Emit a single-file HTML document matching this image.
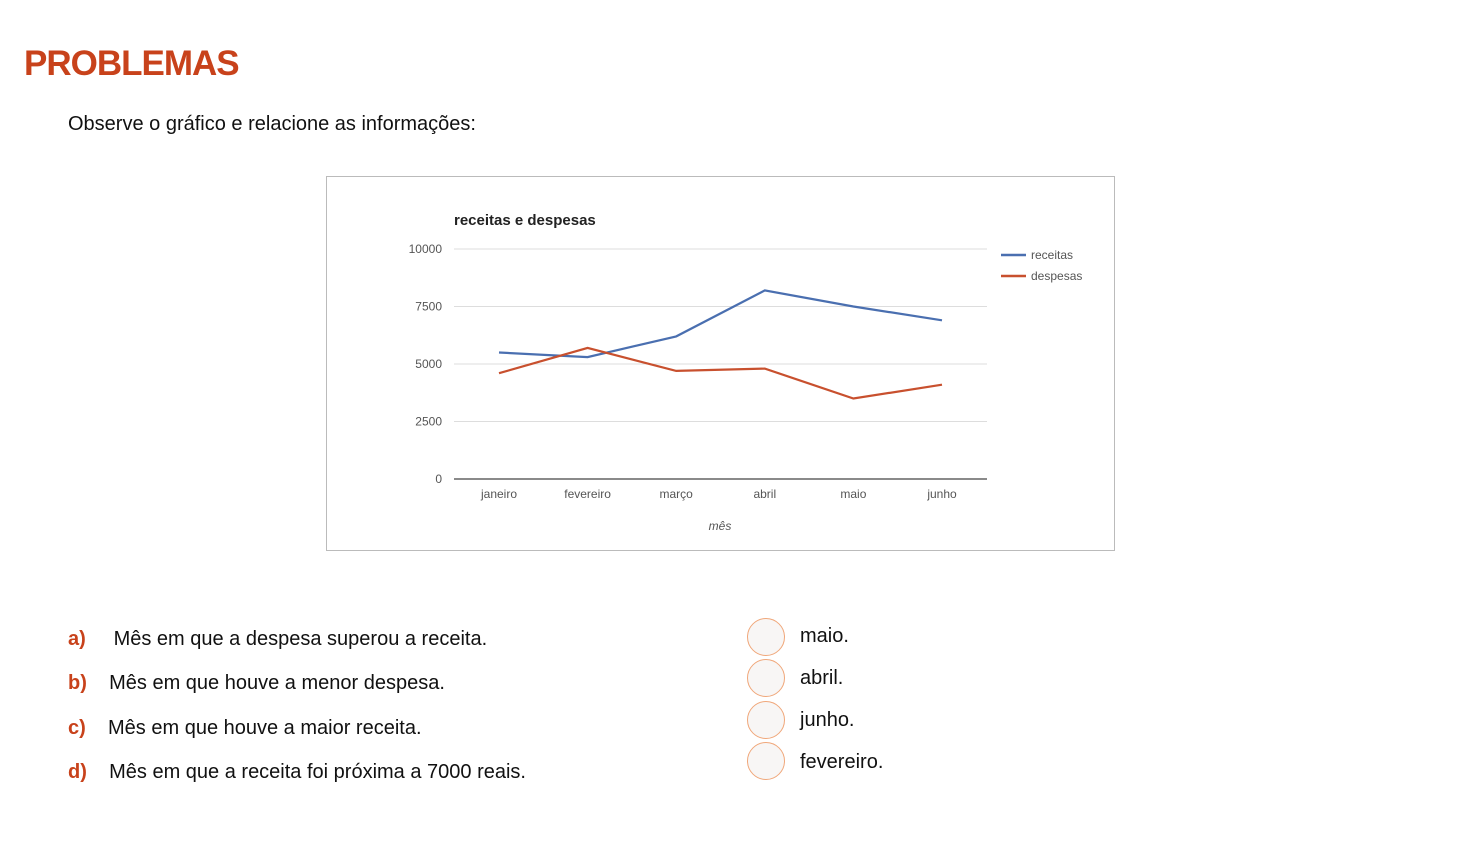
<!DOCTYPE html>
<html><head><meta charset="utf-8"><style>
body{margin:0;width:1460px;height:850px;background:#fff;position:relative;overflow:hidden;font-family:"Liberation Sans",sans-serif;color:#111}
.a{position:absolute;white-space:nowrap}
h1{position:absolute;left:24px;top:44px;margin:0;font-size:35px;font-weight:bold;color:#c8421b;letter-spacing:-1px}
.q{font-size:20px}
.q b{color:#c8421b}
.c{position:absolute;width:36px;height:36px;border-radius:50%;border:1.5px solid #f0a77a;background:#f8f6f5}
</style></head><body>
<h1>PROBLEMAS</h1>
<div class="a" style="left:68px;top:113px;font-size:20px">Observe o gráfico e relacione as informações:</div>
<svg class="a" style="left:0;top:0" width="1460" height="600" font-family="Liberation Sans, sans-serif">
<rect x="326.5" y="176.5" width="788" height="374" fill="#fff" stroke="#bbb"/>
<text x="454" y="225" font-size="15" font-weight="bold" fill="#222">receitas e despesas</text>
<g id="grid"></g><g id="lines"></g>
<text x="720" y="530" font-size="12" font-style="italic" fill="#555" text-anchor="middle">mês</text>
<line x1="1001" y1="255" x2="1026" y2="255" stroke="#4a6fb0" stroke-width="2.5"/>
<text x="1031" y="259" font-size="12" fill="#555">receitas</text>
<line x1="1001" y1="276" x2="1026" y2="276" stroke="#c8502e" stroke-width="2.5"/>
<text x="1031" y="280" font-size="12" fill="#555">despesas</text>
</svg>
<div class="a q" style="left:68px;top:628px"><b>a)</b>&nbsp;&nbsp;&nbsp;&nbsp; Mês em que a despesa superou a receita.</div>
<div class="a q" style="left:68px;top:672px"><b>b)</b>&nbsp;&nbsp;&nbsp; Mês em que houve a menor despesa.</div>
<div class="a q" style="left:68px;top:717px"><b>c)</b>&nbsp;&nbsp;&nbsp; Mês em que houve a maior receita.</div>
<div class="a q" style="left:68px;top:761px"><b>d)</b>&nbsp;&nbsp;&nbsp; Mês em que a receita foi próxima a 7000 reais.</div>
<div class="c" style="left:747px;top:618px"></div>
<div class="c" style="left:747px;top:659px"></div>
<div class="c" style="left:747px;top:701px"></div>
<div class="c" style="left:747px;top:742px"></div>
<div class="a q" style="left:800px;top:625px">maio.</div>
<div class="a q" style="left:800px;top:667px">abril.</div>
<div class="a q" style="left:800px;top:709px">junho.</div>
<div class="a q" style="left:800px;top:751px">fevereiro.</div>
<script>
const categories=["janeiro","fevereiro","março","abril","maio","junho"];
const receitas=[5500,5300,6200,8200,7500,6900];
const despesas=[4600,5700,4700,4800,3500,4100];
const yTicks=[0,2500,5000,7500,10000];
const NS="http://www.w3.org/2000/svg";
const x=i=>499+i*88.6, y=v=>479-v*0.023;
const g=document.getElementById('grid'), L=document.getElementById('lines');
function mk(p,t,a){const e=document.createElementNS(NS,t);for(const k in a)e.setAttribute(k,a[k]);p.appendChild(e);return e;}
yTicks.forEach(v=>{
 const l=mk(g,'line',{x1:454,x2:987,y1:y(v),y2:y(v),stroke:v?'#ddd':'#444','stroke-width':v?1:1.3});
 
 
 const t=mk(g,'text',{x:442,y:y(v)+4,'font-size':12,fill:'#555','text-anchor':'end'});t.textContent=v;
 
 
});
categories.forEach((c,i)=>{
 const t=mk(g,'text',{x:x(i),y:498,'font-size':12,fill:'#555','text-anchor':'middle'});t.textContent=c;
 
 
});
[[receitas,'#4a6fb0','line-receitas'],[despesas,'#c8502e','line-despesas']].forEach(([d,col,n])=>{
 const p=mk(L,'polyline',{points:d.map((v,i)=>x(i)+','+y(v)).join(' '),fill:'none',stroke:col,'stroke-width':2.2});
 
 
});
</script>
</body></html>
